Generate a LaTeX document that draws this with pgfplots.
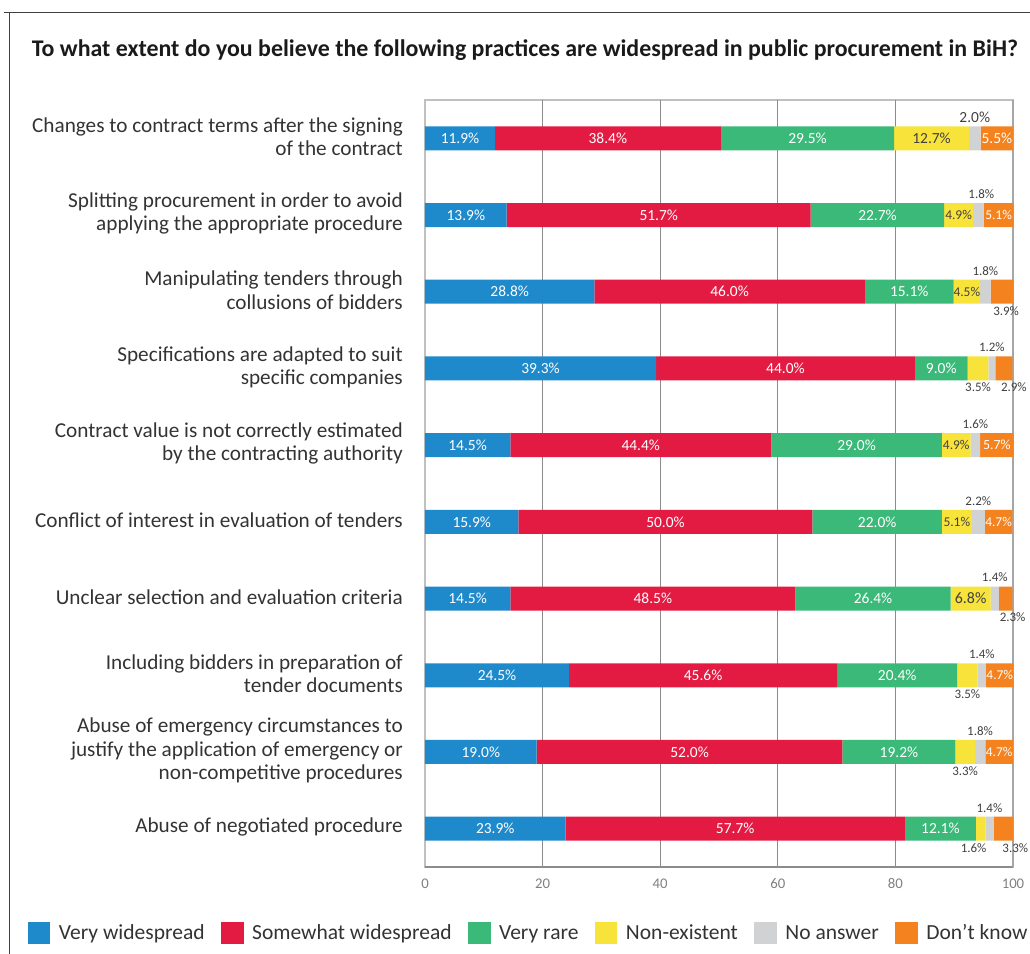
\documentclass[border=0pt]{standalone}
\usepackage{pgfplots}
\pgfplotsset{compat=1.18}
\usepackage{pgfplotstable}
\usepackage{fontspec}
\setmainfont{Carlito}
\definecolor{cblue}{HTML}{1F8ACB}
\definecolor{cred}{HTML}{E31B43}
\definecolor{cgreen}{HTML}{3BB979}
\definecolor{cyellow}{HTML}{F8E33B}
\definecolor{cgray}{HTML}{D1D2D4}
\definecolor{corange}{HTML}{F4821F}
\definecolor{lbl}{HTML}{404040}
\definecolor{ctext}{HTML}{333333}
\definecolor{ctitle}{HTML}{1A1A1A}
\definecolor{cgrid}{HTML}{8C8C8C}
\definecolor{cborder}{HTML}{C0C0C0}
\definecolor{cright}{HTML}{A6A6A6}
\definecolor{ctick}{HTML}{808080}
\definecolor{cframe}{HTML}{404040}

% y = category index (0 = top), v = value, ys = label y offset (bp),
% dx = label x nudge (bp), fs = label font size, tw = 100 white label / 0 dark label
\pgfplotstableread{
y v ys dx fs tw
0 11.9 0 0 15.5 100
1 13.9 0 0 15.5 100
2 28.8 0 0 15.5 100
3 39.3 0 0 15.5 100
4 14.5 0 0 15.5 100
5 15.9 0 0 15.5 100
6 14.5 0 0 15.5 100
7 24.5 0 0 15.5 100
8 19.0 0 0 15.5 100
9 23.9 0 0 15.5 100
}\tblue
\pgfplotstableread{
y v ys dx fs tw
0 38.4 0 0 15.5 100
1 51.7 0 0 15.5 100
2 46.0 0 0 15.5 100
3 44.0 0 0 15.5 100
4 44.4 0 0 15.5 100
5 50.0 0 0 15.5 100
6 48.5 0 0 15.5 100
7 45.6 0 0 15.5 100
8 52.0 0 0 15.5 100
9 57.7 0 0 15.5 100
}\tred
\pgfplotstableread{
y v ys dx fs tw
0 29.5 0 0 15.5 100
1 22.7 0 0 15.5 100
2 15.1 0 0 15.5 100
3 9.0 0 0 15.5 100
4 29.0 0 0 15.5 100
5 22.0 0 0 15.5 100
6 26.4 0 0 15.5 100
7 20.4 0 0 15.5 100
8 19.2 0 0 15.5 100
9 12.1 0 0 15.5 100
}\tgreen
\pgfplotstableread{
y v ys dx fs tw
0 12.7 0 0 15.5 0
1 4.9 0 0 13.5 0
2 4.5 0 0 13.5 0
3 3.5 -19 0 13 0
4 4.9 0 0 13.5 0
5 5.1 0 0 13.5 0
6 6.8 0 0 16 0
7 3.5 -19 0 13 0
8 3.3 -19 0 13 0
9 1.6 -19 -7 13 0
}\tyellow
\pgfplotstableread{
y v ys dx fs tw
0 2.0 21 0 15.5 0
1 1.8 21 3 13 0
2 1.8 21 0 13 0
3 1.2 21 0 13 0
4 1.6 21 0 13 0
5 2.2 21 0 13 0
6 1.4 21 0 13 0
7 1.4 21 0 13 0
8 1.8 21 0 13 0
9 1.4 21 0 13 0
}\tgray
\pgfplotstableread{
y v ys dx fs tw
0 5.5 0 0 15.5 100
1 5.1 0 0 13.5 100
2 3.9 -19 4 13 0
3 2.9 -19 10 13 0
4 5.7 0 0 14 100
5 4.7 0 0 13.5 100
6 2.3 -19 7 13 0
7 4.7 0 0 13.5 100
8 4.7 0 0 13.5 100
9 3.3 -19 12 13 0
}\torange

\pgfplotsset{
  seglabels/.style={
    point meta=explicit,
    nodes near coords={\pgfmathprintnumber[fixed,fixed zerofill,precision=1,assume math mode=true]{\pgfplotspointmeta}\%},
    visualization depends on={\thisrow{ys}\as\lys},
    visualization depends on={\thisrow{dx}\as\ldx},
    visualization depends on={\thisrow{fs}\as\lfs},
    visualization depends on={\thisrow{tw}\as\ltw},
    every node near coord/.append style={anchor=center, inner sep=0pt,
      text=white!\ltw!lbl, font=\fontsize{\lfs}{\lfs}\selectfont,
      xshift={\ldx*1bp}, yshift={\lys*1bp}},
  },
  sqlegend/.style={legend image code/.code={\fill[##1,draw=none] (0bp,-11.2bp) rectangle (22.5bp,11.2bp);}},
}

\begin{document}
\begin{tikzpicture}
\useasboundingbox (-425bp,-87bp) rectangle (605bp,867bp);
\draw[cframe, line width=1.5bp] (-421bp,854.5bp) -- (610bp,854.5bp);
\draw[cframe, line width=1.5bp] (-415.7bp,855bp) -- (-415.7bp,-95bp);
\node[anchor=base, inner sep=0pt, text=ctitle, font=\bfseries\fontsize{24}{28}\selectfont]
  at (100bp,810.5bp) {To what extent do you believe the following practices are widespread in public procurement in BiH?};
\begin{axis}[
  at={(0bp,0bp)}, anchor=south west,
  scale only axis, width=588bp, height=767bp,
  xbar stacked, bar width=24bp,
  clip=false,
  xmin=0, xmax=100, ymin=-0.5, ymax=9.5, y dir=reverse,
  ytick={0,...,9},
  yticklabels={
    {Changes to contract terms after the signing\\of the contract},
    {Splitting procurement in order to avoid\\applying the appropriate procedure},
    {Manipulating tenders through\\collusions of bidders},
    {Specifications are adapted to suit\\specific companies},
    {Contract value is not correctly estimated\\by the contracting authority},
    {Conflict of interest in evaluation of tenders},
    {Unclear selection and evaluation criteria},
    {Including bidders in preparation of\\tender documents},
    {Abuse of emergency circumstances to\\justify the application of emergency or\\non-competitive procedures},
    {Abuse of negotiated procedure}},
  yticklabel style={font=\fontsize{21.3}{23.3}\selectfont, text=ctext, align=right, inner sep=0pt, anchor=east, xshift=-22bp, yshift=1.5bp},
  xtick={0,20,40,60,80,100},
  /pgf/number format/assume math mode=true,
  xticklabel style={font=\fontsize{14.8}{16}\selectfont, text=ctick, inner sep=0pt, anchor=north, yshift=-11.4bp},
  major tick length=0pt,
  tick style={draw=none},
  extra x ticks={20,40,60,80},
  extra x tick labels={},
  extra x tick style={grid=major, major grid style={draw=cgrid, line width=1.2bp}},
  axis line style={draw=cborder, line width=1.2bp},
  every axis plot post/.append style={sqlegend},
  legend columns=6,
  legend cell align=left,
  legend style={at={(axis description cs:-0.6752,-0.0860)}, anchor=west, draw=none, fill=none,
    inner sep=0pt, outer sep=0pt, font=\fontsize{21.6}{24}\selectfont, text=ctext,
    nodes={inner sep=0pt},
    /tikz/every odd column/.append style={column sep=8.5bp},
    /tikz/every even column/.append style={column sep=16.5bp}},
]
\addplot[fill=cblue, draw=none, seglabels] table[x=v, y=y, meta=v] {\tblue};
\addlegendentry{Very widespread}
\addplot[fill=cred, draw=none, seglabels] table[x=v, y=y, meta=v] {\tred};
\addlegendentry{Somewhat widespread}
\addplot[fill=cgreen, draw=none, seglabels] table[x=v, y=y, meta=v] {\tgreen};
\addlegendentry{Very rare}
\addplot[fill=cyellow, draw=none, seglabels] table[x=v, y=y, meta=v] {\tyellow};
\addlegendentry{Non-existent}
\addplot[fill=cgray, draw=none, seglabels] table[x=v, y=y, meta=v] {\tgray};
\addlegendentry{No answer}
\addplot[fill=corange, draw=none, seglabels] table[x=v, y=y, meta=v] {\torange};
\addlegendentry{Don’t know}
\draw[cright, line width=2bp] (rel axis cs:1,0) -- (rel axis cs:1,1);
\draw[cgrid, line width=1.2bp] (rel axis cs:0,0) -- (rel axis cs:1,0);
\end{axis}
\end{tikzpicture}
\end{document}
